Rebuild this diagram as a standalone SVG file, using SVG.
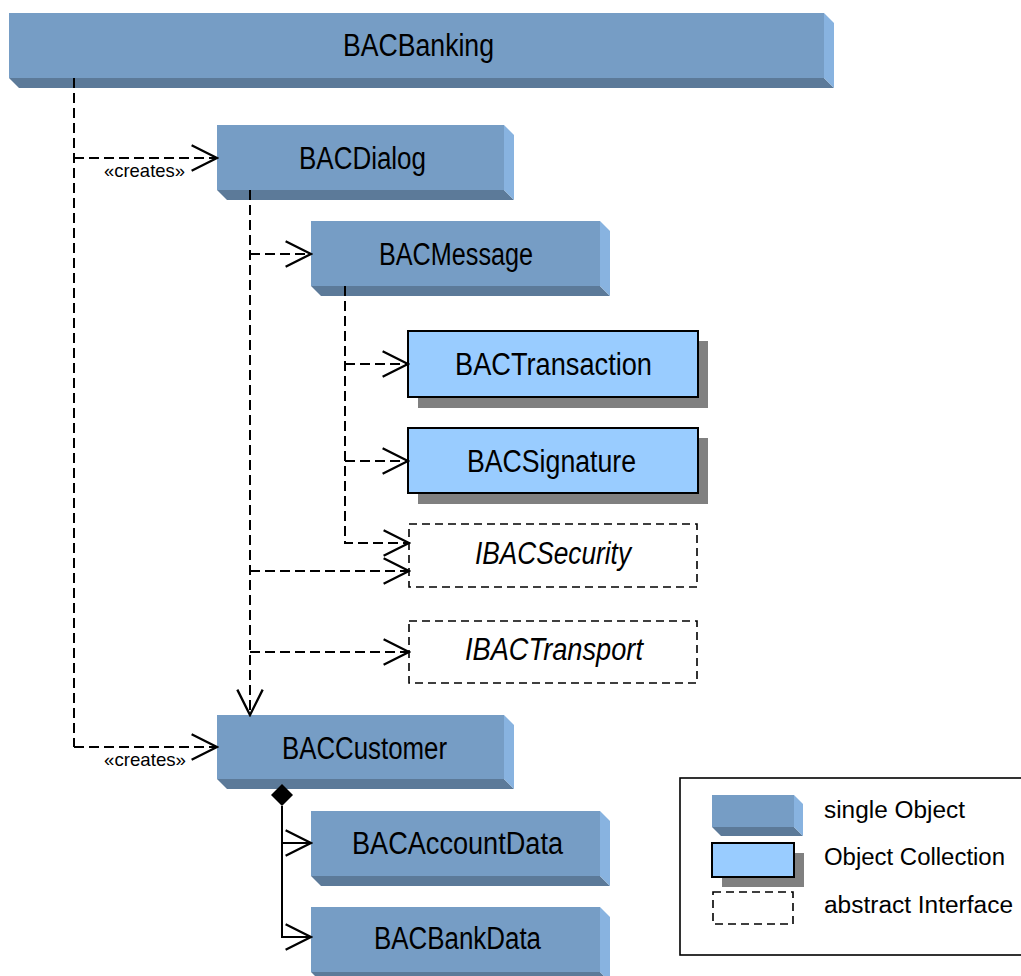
<svg xmlns="http://www.w3.org/2000/svg" width="1021" height="976" viewBox="0 0 1021 976">
  <style>
    .front { fill: #769dc5; }
    .bottom { fill: #5c7a99; }
    .side { fill: #88b3e0; }
    .coll { fill: #99ccff; stroke: #000; stroke-width: 2; }
    .shadow { fill: #808080; }
    .iface { fill: #fff; stroke: #000; stroke-width: 1.6; stroke-dasharray: 8 5; }
    .lbl { font-family: "Liberation Sans", Arial, sans-serif; font-size: 31px; fill: #000; }
    .ital { font-style: italic; }
    .small { font-family: "Liberation Sans", Arial, sans-serif; font-size: 19px; fill: #000; }
    .leg { font-family: "Liberation Sans", Arial, sans-serif; font-size: 23px; fill: #000; }
    .dep { fill: none; stroke: #000; stroke-width: 2; stroke-dasharray: 10 5; }
    .solid { fill: none; stroke: #000; stroke-width: 2; }
  </style>
  <defs>
    <marker id="open" markerUnits="userSpaceOnUse" markerWidth="30" markerHeight="30" viewBox="-24 -13 26 26" refX="0" refY="0" orient="auto">
      <path d="M-22,-11 L0,0 L-22,11" fill="none" stroke="#000" stroke-width="2" stroke-dasharray="none"/>
    </marker>
  </defs>

  <rect width="1021" height="976" fill="#fff"/>

  <!-- single objects drawn as 3D blocks -->
  <g id="BACBanking">
    <rect class="front" x="9" y="13" width="815" height="65"/>
    <polygon class="bottom" points="9,78 824,78 834,88 19,88"/>
    <polygon class="side" points="824,13 834,23 834,88 824,78"/>
    <text class="lbl" x="343" y="56" textLength="151" lengthAdjust="spacingAndGlyphs">BACBanking</text>
  </g>

  <g id="BACDialog">
    <rect class="front" x="217" y="125" width="287" height="65"/>
    <polygon class="bottom" points="217,190 504,190 514,200 227,200"/>
    <polygon class="side" points="504,125 514,135 514,200 504,190"/>
    <text class="lbl" x="299" y="169" textLength="127" lengthAdjust="spacingAndGlyphs">BACDialog</text>
  </g>

  <g id="BACMessage">
    <rect class="front" x="311" y="221" width="289" height="65"/>
    <polygon class="bottom" points="311,286 600,286 610,296 321,296"/>
    <polygon class="side" points="600,221 610,231 610,296 600,286"/>
    <text class="lbl" x="379" y="265" textLength="154" lengthAdjust="spacingAndGlyphs">BACMessage</text>
  </g>

  <!-- object collections -->
  <g id="BACTransaction">
    <rect class="shadow" x="418" y="341" width="290" height="67"/>
    <rect class="coll" x="408" y="331" width="290" height="66"/>
    <text class="lbl" x="455" y="375" textLength="197" lengthAdjust="spacingAndGlyphs">BACTransaction</text>
  </g>

  <g id="BACSignature">
    <rect class="shadow" x="418" y="438" width="290" height="66"/>
    <rect class="coll" x="408" y="428" width="290" height="65"/>
    <text class="lbl" x="467" y="472" textLength="169" lengthAdjust="spacingAndGlyphs">BACSignature</text>
  </g>

  <!-- abstract interfaces -->
  <g id="IBACSecurity">
    <rect class="iface" x="409" y="524" width="288" height="63"/>
    <text class="lbl ital" x="475" y="564" textLength="156" lengthAdjust="spacingAndGlyphs">IBACSecurity</text>
  </g>

  <g id="IBACTransport">
    <rect class="iface" x="409" y="621" width="288" height="62"/>
    <text class="lbl ital" x="465" y="660" textLength="178" lengthAdjust="spacingAndGlyphs">IBACTransport</text>
  </g>

  <g id="BACCustomer">
    <rect class="front" x="217" y="715" width="287" height="64"/>
    <polygon class="bottom" points="217,779 504,779 514,789 227,789"/>
    <polygon class="side" points="504,715 514,725 514,789 504,779"/>
    <text class="lbl" x="282" y="759" textLength="165" lengthAdjust="spacingAndGlyphs">BACCustomer</text>
  </g>

  <g id="BACAccountData">
    <rect class="front" x="311" y="811" width="289" height="65"/>
    <polygon class="bottom" points="311,876 600,876 610,886 321,886"/>
    <polygon class="side" points="600,811 610,821 610,886 600,876"/>
    <text class="lbl" x="352" y="854" textLength="211" lengthAdjust="spacingAndGlyphs">BACAccountData</text>
  </g>

  <g id="BACBankData">
    <rect class="front" x="311" y="907" width="289" height="65"/>
    <polygon class="bottom" points="311,972 600,972 610,982 321,982"/>
    <polygon class="side" points="600,907 610,917 610,982 600,972"/>
    <text class="lbl" x="374" y="949" textLength="167" lengthAdjust="spacingAndGlyphs">BACBankData</text>
  </g>

  <!-- connectors -->
  <g id="connectors">
    <!-- creation links from BACBanking -->
    <path class="dep" d="M74,78 V747"/>
    <path class="dep" d="M74,158 H217" marker-end="url(#open)"/>
    <path class="dep" d="M74,747 H217" marker-end="url(#open)"/>
    <text class="small" x="104" y="177" textLength="81" lengthAdjust="spacingAndGlyphs">«creates»</text>
    <text class="small" x="104" y="766" textLength="82" lengthAdjust="spacingAndGlyphs">«creates»</text>

    <!-- dependencies of BACDialog -->
    <path class="dep" d="M250,190 V715" marker-end="url(#open)"/>
    <path class="dep" d="M250,254 H311" marker-end="url(#open)"/>
    <path class="dep" d="M250,571 H409" marker-end="url(#open)"/>
    <path class="dep" d="M250,652 H409" marker-end="url(#open)"/>

    <!-- dependencies of BACMessage -->
    <path class="dep" d="M345,286 V543 H409" marker-end="url(#open)"/>
    <path class="dep" d="M345,364 H408" marker-end="url(#open)"/>
    <path class="dep" d="M345,461 H408" marker-end="url(#open)"/>

    <!-- composition of BACCustomer -->
    <polygon points="282,784 293,795 282,806 271,795" fill="#000"/>
    <path class="solid" d="M282,806 V937 H311" marker-end="url(#open)"/>
    <path class="solid" d="M282,843 H311" marker-end="url(#open)"/>
  </g>

  <!-- legend -->
  <g id="legend">
    <rect x="680" y="778" width="360" height="177" fill="#fff" stroke="#000" stroke-width="1.6"/>
    <rect class="front" x="712" y="795" width="82" height="32"/>
    <polygon class="bottom" points="712,827 794,827 803,836 721,836"/>
    <polygon class="side" points="794,795 803,804 803,836 794,827"/>
    <rect class="shadow" x="722" y="853" width="82" height="34"/>
    <rect class="coll" x="712" y="843" width="82" height="34"/>
    <rect class="iface" x="713" y="892" width="80" height="32"/>
    <text class="leg" x="824" y="818" textLength="141" lengthAdjust="spacingAndGlyphs">single Object</text>
    <text class="leg" x="824" y="865" textLength="181" lengthAdjust="spacingAndGlyphs">Object Collection</text>
    <text class="leg" x="824" y="913" textLength="189" lengthAdjust="spacingAndGlyphs">abstract Interface</text>
  </g>
</svg>
